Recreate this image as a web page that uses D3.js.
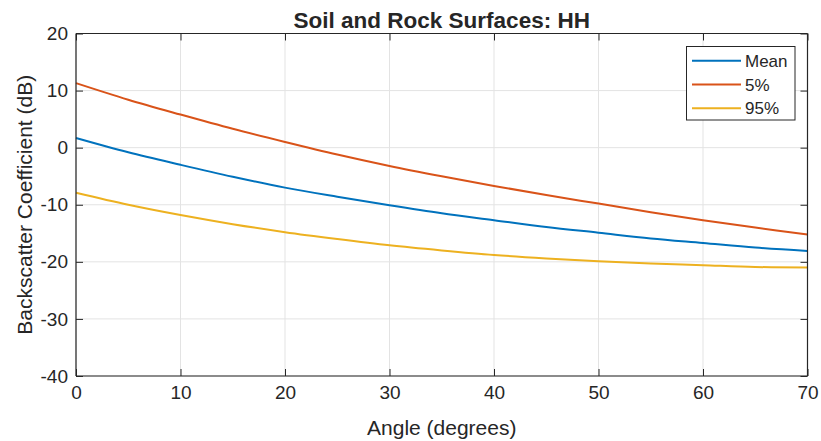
<!DOCTYPE html>
<html>
<head>
<meta charset="utf-8">
<script src="https://cdn.jsdelivr.net/npm/d3@7"></script>
<style>
  html, body { margin: 0; padding: 0; background: #fff; }
  text { font-family: "Liberation Sans", Arial, Helvetica, sans-serif; fill: #262626; }
</style>
</head>
<body>
<svg id="chart" width="821" height="441"></svg>
<script>
const angles = [0, 5, 10, 15, 20, 25, 30, 35, 40, 45, 50, 55, 60, 65, 70];
const meanValues = [1.7, -0.8, -3.0, -5.1, -7.0, -8.6, -10.1, -11.5, -12.7, -13.9, -14.9, -15.9, -16.7, -17.5, -18.1];
const p5Values = [11.3, 8.4, 5.8, 3.3, 1.0, -1.2, -3.2, -5.0, -6.7, -8.3, -9.8, -11.3, -12.7, -14.0, -15.2];
const p95Values = [-7.9, -10.0, -11.8, -13.4, -14.8, -16.0, -17.1, -18.0, -18.8, -19.4, -19.9, -20.3, -20.6, -20.9, -21.0];
const seriesNames = ["Mean", "5%", "95%"];
const seriesColors = ["#0072BD", "#D95319", "#EDB120"];
const xTicks = [0, 10, 20, 30, 40, 50, 60, 70];
const yTicks = [-40, -30, -20, -10, 0, 10, 20];
const titleText = "Soil and Rock Surfaces: HH";
const xLabelText = "Angle (degrees)";
const yLabelText = "Backscatter Coefficient (dB)";

const series = [meanValues, p5Values, p95Values];

const svg = d3.select("#chart");
const L = 76, R = 807.5, T = 33.5, B = 376;
const x = d3.scaleLinear().domain([0, 70]).range([L, R]);
const y = d3.scaleLinear().domain([-40, 20]).range([B, T]);

// grid
const grid = svg.append("g");
grid.selectAll("line.gx").data(xTicks).join("line")
  .attr("x1", d => x(d)).attr("x2", d => x(d)).attr("y1", T).attr("y2", B)
  .attr("stroke", "#e3e3e3").attr("stroke-width", 1);
grid.selectAll("line.gy").data(yTicks).join("line")
  .attr("y1", d => y(d)).attr("y2", d => y(d)).attr("x1", L).attr("x2", R)
  .attr("stroke", "#e3e3e3").attr("stroke-width", 1);

// series lines
const line = d3.line().x((d, i) => x(angles[i])).y(d => y(d)).curve(d3.curveCatmullRom);
series.forEach((vals, k) => {
  svg.append("path").datum(vals).attr("d", line)
    .attr("fill", "none").attr("stroke", seriesColors[k]).attr("stroke-width", 2);
});

// axes
const tickLen = 7;
const axisColor = "#262626";
const fmt = d => String(d);
const xAxis = d3.axisBottom(x).tickValues(xTicks).tickSize(-tickLen).tickPadding(10).tickFormat(fmt);
const xAxisTop = d3.axisTop(x).tickValues(xTicks).tickSize(-tickLen).tickFormat("");
const yAxis = d3.axisLeft(y).tickValues(yTicks).tickSize(-tickLen).tickPadding(8).tickFormat(fmt);
const yAxisRight = d3.axisRight(y).tickValues(yTicks).tickSize(-tickLen).tickFormat("");

function styleAxis(g) {
  g.attr("font-size", 19).attr("font-family", "'Liberation Sans', Arial, sans-serif");
  g.select(".domain").attr("stroke", axisColor).attr("stroke-width", 1.2);
  g.selectAll(".tick line").attr("stroke", axisColor).attr("stroke-width", 1);
  g.selectAll(".tick text").attr("fill", "#262626").style("font-size", "19px");
}
svg.append("g").attr("transform", `translate(0,${B})`).call(xAxis).call(styleAxis)
  .call(g => g.select(".domain").attr("d", `M${L},0H${R}`));
svg.append("g").attr("transform", `translate(0,${T})`).call(xAxisTop).call(styleAxis)
  .call(g => g.select(".domain").attr("d", `M${L},0H${R}`));
svg.append("g").attr("transform", `translate(${L},0)`).call(yAxis).call(styleAxis)
  .call(g => g.select(".domain").attr("d", `M0,${T}V${B}`));
svg.append("g").attr("transform", `translate(${R},0)`).call(yAxisRight).call(styleAxis)
  .call(g => g.select(".domain").attr("d", `M0,${T}V${B}`));

// title
svg.append("text").attr("x", (L + R) / 2).attr("y", 28).attr("text-anchor", "middle")
  .style("font-size", "22.5px").style("font-weight", "bold").attr("fill", "#000").text(titleText);
// x label
svg.append("text").attr("x", (L + R) / 2).attr("y", 435).attr("text-anchor", "middle")
  .style("font-size", "21px").text(xLabelText);
// y label
svg.append("text").attr("transform", `translate(32,${(T + B) / 2}) rotate(-90)`).attr("text-anchor", "middle")
  .style("font-size", "21px").text(yLabelText);

// legend
const lg = svg.append("g");
lg.append("rect").attr("x", 686.5).attr("y", 46.5).attr("width", 108.5).attr("height", 73.5)
  .attr("fill", "#fff").attr("stroke", axisColor).attr("stroke-width", 1);
const rowY = [60.7, 84.5, 108.3];
seriesNames.forEach((name, k) => {
  lg.append("line").attr("x1", 692).attr("x2", 741).attr("y1", rowY[k]).attr("y2", rowY[k])
    .attr("stroke", seriesColors[k]).attr("stroke-width", 2);
  lg.append("text").attr("x", 745).attr("y", rowY[k]).attr("dy", "0.36em")
    .style("font-size", "17px").attr("fill", "#000").text(name);
});
</script>
</body>
</html>
